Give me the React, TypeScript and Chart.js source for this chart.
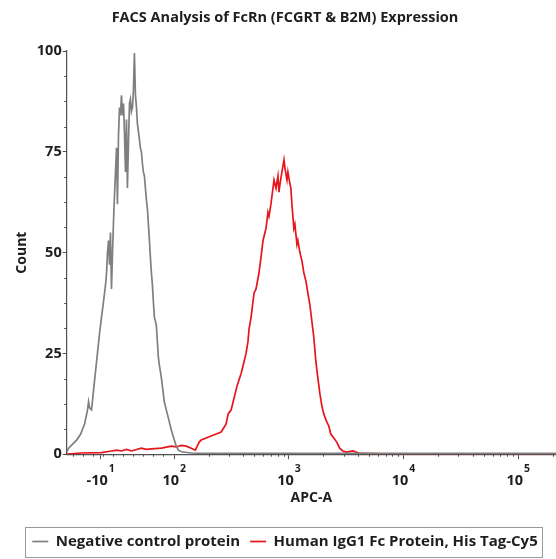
import React, { useEffect, useRef } from 'react';
import { Chart, registerables } from 'chart.js';

Chart.register(...registerables);

const FONT = '"Open Sans", "DejaVu Sans", sans-serif';
const TEXT = '#1e1e1e';
const AXIS = '#505050';

const TITLE = 'FACS Analysis of FcRn (FCGRT & B2M) Expression';
const X_TITLE = 'APC-A';
const Y_TITLE = 'Count';
const SERIES_NAMES = ['Negative control protein', 'Human IgG1 Fc Protein, His Tag-Cy5'];
const SERIES_COLORS = ['#7f7f7f', '#e8141b'];

// x positions are in display decades (biexponential axis: 2 = 10^2, 3 = 10^3 ...)
const X_MIN = 1.061;
const X_MAX = 5.33;
const X_TICK_POS = [1.357, 2, 3, 4, 5];
const X_TICK_BASE = ['-10', '10', '10', '10', '10'];
const X_TICK_EXP = ['1', '2', '3', '4', '5'];
const Y_TICKS = [0, 25, 50, 75, 100];

const negX = [
  1.061, 1.078, 1.113, 1.148, 1.183, 1.217, 1.243, 1.252, 1.261, 1.278, 1.296, 1.322, 1.348, 1.365,
  1.383, 1.4, 1.409, 1.417, 1.426, 1.435, 1.443, 1.452, 1.461, 1.47, 1.478, 1.487, 1.496, 1.504,
  1.513, 1.522, 1.53, 1.539, 1.548, 1.557, 1.565, 1.574, 1.583, 1.591, 1.6, 1.609, 1.617, 1.626,
  1.635, 1.643, 1.652, 1.661, 1.67, 1.678, 1.687, 1.696, 1.704, 1.713, 1.722, 1.73, 1.739, 1.748,
  1.757, 1.765, 1.774, 1.783, 1.791, 1.8, 1.809, 1.817, 1.826, 1.835, 1.843, 1.852, 1.861, 1.87,
  1.887, 1.904, 1.913, 1.93, 1.948, 1.974, 2.0, 2.017, 2.035, 2.061, 2.148, 2.235, 2.67, 3.539,
  4.409, 5.33,
];
const negY = [
  0.5, 1.5, 2.5, 3.5, 5, 7.5, 11, 13, 11.5, 11, 16, 23, 30, 34,
  38, 42, 45, 50, 53, 47, 55, 41, 50, 58, 64, 70, 76, 62,
  79, 86, 84, 89, 84, 87, 80, 70, 83, 66, 77, 87, 88, 85,
  86, 90, 99.5, 89, 86, 82, 80, 78, 76, 75, 72, 70, 69, 66,
  63, 61, 57, 53, 49, 45, 42, 38, 34, 33, 32, 28, 24, 22,
  19, 15, 13, 11, 9, 6, 3.5, 2, 1, 0.6, 0.3, 0.2, 0.2, 0.2,
  0.2, 0.2,
];

const posX = [
  1.061, 1.191, 1.365, 1.452, 1.496, 1.539, 1.583, 1.626, 1.713, 1.757, 1.8, 1.887, 1.974, 2.017,
  2.061, 2.104, 2.148, 2.183, 2.2, 2.217, 2.235, 2.278, 2.322, 2.365, 2.409, 2.452, 2.47, 2.496,
  2.522, 2.548, 2.583, 2.609, 2.626, 2.643, 2.652, 2.67, 2.687, 2.696, 2.713, 2.739, 2.757, 2.774,
  2.791, 2.8, 2.817, 2.826, 2.843, 2.861, 2.87, 2.887, 2.904, 2.913, 2.922, 2.939, 2.957, 2.965,
  2.983, 2.991, 3.009, 3.017, 3.026, 3.043, 3.052, 3.07, 3.078, 3.096, 3.113, 3.13, 3.148, 3.165,
  3.183, 3.2, 3.217, 3.226, 3.235, 3.252, 3.27, 3.287, 3.304, 3.33, 3.348, 3.365, 3.391, 3.417,
  3.443, 3.47, 3.504, 3.557, 3.609, 3.67, 3.8, 5.33,
];
const posY = [
  0, 0.3, 0.4, 0.8, 1.0, 0.8, 1.2, 0.8, 1.5, 1.2, 1.3, 1.5, 2.0, 1.8,
  2.2, 2, 1.5, 1, 2, 3, 3.5, 4, 4.5, 5, 5.5, 7.5, 10, 11,
  14, 17, 20, 23, 25, 28, 31, 34, 38, 40, 41, 45, 49, 53,
  55, 56, 60, 59, 62, 66, 68, 66, 69, 65, 67, 70, 73, 71,
  68, 70, 67, 66, 62, 56, 57, 52, 53, 50, 48, 45, 43, 40,
  37, 33, 29, 26, 23, 19, 15, 12, 10, 8, 7, 5, 4, 3,
  1.5, 0.8, 0.5, 0.8, 0.3, 0.2, 0.1, 0.1,
];

const toPoints = (xs: number[], ys: number[]) => xs.map((x, i) => ({ x, y: ys[i] }));

const axisDecor = {
  id: 'axisDecor',
  afterDraw(chart: any) {
    const { ctx, chartArea, scales } = chart;
    const xs = scales.x;
    const ys = scales.y;
    ctx.save();
    // minor ticks on y
    ctx.strokeStyle = AXIS;
    ctx.lineWidth = 1;
    ctx.beginPath();
    for (let v = 6.25; v < 100; v += 6.25) {
      if (v % 25 === 0) continue;
      const y = Math.round(ys.getPixelForValue(v)) + 0.5;
      ctx.moveTo(chartArea.left - 2.5, y);
      ctx.lineTo(chartArea.left, y);
    }
    // minor ticks on x: linear zone, then log zone
    const minor: number[] = [];
    for (let v = 1.12; v < 1.97; v += 0.087) minor.push(v);
    for (let d = 2; d <= 5; d++) {
      for (let k = 2; k <= 9; k++) {
        const v = d + Math.log10(k);
        if (v < X_MAX) minor.push(v);
      }
    }
    minor.forEach((v) => {
      const x = Math.round(xs.getPixelForValue(v)) + 0.5;
      ctx.moveTo(x, chartArea.bottom);
      ctx.lineTo(x, chartArea.bottom + 2.5);
    });
    ctx.stroke();

    // x tick labels with superscript exponents
    ctx.fillStyle = TEXT;
    ctx.textBaseline = 'middle';
    ctx.textAlign = 'left';
    X_TICK_POS.forEach((v, i) => {
      const x = xs.getPixelForValue(v);
      ctx.font = `bold 14.5px ${FONT}`;
      const wb = ctx.measureText(X_TICK_BASE[i]).width;
      ctx.font = `bold 10.5px ${FONT}`;
      const we = ctx.measureText(X_TICK_EXP[i]).width;
      const start = x - (wb + we + 1) / 2;
      ctx.font = `bold 14.5px ${FONT}`;
      ctx.fillText(X_TICK_BASE[i], start, chartArea.bottom + 27);
      ctx.font = `bold 10.5px ${FONT}`;
      ctx.fillText(X_TICK_EXP[i], start + wb + 1, chartArea.bottom + 15);
    });

    // legend frame
    const lg = chart.legend;
    if (lg && lg.legendHitBoxes && lg.legendHitBoxes.length) {
      const hb = lg.legendHitBoxes;
      const left = Math.min(...hb.map((b: any) => b.left)) - 7;
      const right = Math.max(...hb.map((b: any) => b.left + b.width)) + 5;
      ctx.strokeStyle = '#9a9a9a';
      ctx.lineWidth = 1;
      ctx.strokeRect(Math.round(left) + 0.5, Math.round(lg.top + 3) + 0.5, Math.round(right - left), Math.round(lg.bottom - lg.top - 5));
    }
    ctx.restore();
  },
};

export default function App() {
  const ref = useRef<HTMLCanvasElement | null>(null);
  useEffect(() => {
    if (!ref.current) return;
    const chart = new Chart(ref.current, {
      type: 'line',
      data: {
        datasets: [
          {
            label: SERIES_NAMES[0],
            data: toPoints(negX, negY),
            borderColor: SERIES_COLORS[0],
            backgroundColor: SERIES_COLORS[0],
            borderWidth: 1.7,
            pointRadius: 0,
            tension: 0,
          },
          {
            label: SERIES_NAMES[1],
            data: toPoints(posX, posY),
            borderColor: SERIES_COLORS[1],
            backgroundColor: SERIES_COLORS[1],
            borderWidth: 1.7,
            pointRadius: 0,
            tension: 0,
          },
        ],
      },
      options: {
        animation: false,
        responsive: false,
        maintainAspectRatio: false,
        layout: { padding: { left: 14, right: 0, top: 0, bottom: 0 } },
        plugins: {
          title: {
            display: true,
            text: TITLE,
            color: TEXT,
            font: { family: FONT, size: 14.5, weight: 'bold' },
            padding: { top: 9.3, bottom: 24.3 },
          },
          legend: {
            position: 'bottom',
            labels: {
              usePointStyle: true,
              pointStyle: 'line',
              pointStyleWidth: 16,
              color: TEXT,
              font: { family: FONT, size: 15, weight: 'bold' },
              padding: 10,
            },
          },
          tooltip: { enabled: false },
        },
        scales: {
          x: {
            type: 'linear',
            min: X_MIN,
            max: X_MAX,
            afterBuildTicks: (s: any) => {
              s.ticks = X_TICK_POS.map((v) => ({ value: v }));
            },
            ticks: { display: false },
            grid: { display: true, drawOnChartArea: false, drawTicks: true, tickLength: 5, color: AXIS },
            border: { display: true, color: AXIS, width: 1.2 },
            title: {
              display: true,
              text: X_TITLE,
              color: TEXT,
              font: { family: FONT, size: 14, weight: 'bold' },
              padding: { top: 30, bottom: 18 },
            },
          },
          y: {
            min: 0,
            max: 100,
            afterBuildTicks: (s: any) => {
              s.ticks = Y_TICKS.map((v) => ({ value: v }));
            },
            ticks: { color: TEXT, font: { family: FONT, size: 14.5, weight: 'bold' }, padding: 1 },
            grid: { display: true, drawOnChartArea: false, drawTicks: true, tickLength: 4, color: AXIS },
            border: { display: true, color: AXIS, width: 1.2 },
            title: {
              display: true,
              text: Y_TITLE,
              color: TEXT,
              font: { family: FONT, size: 14, weight: 'bold' },
              padding: { top: 0, bottom: 5 },
            },
          },
        },
      },
      plugins: [axisDecor],
    });
    return () => chart.destroy();
  }, []);
  return (
    <div style={{ position: 'absolute', left: 0, top: 0, width: 556, height: 559, background: '#fff' }}>
      <canvas ref={ref} width={556} height={559} style={{ display: 'block', width: 556, height: 559 }} />
    </div>
  );
}
